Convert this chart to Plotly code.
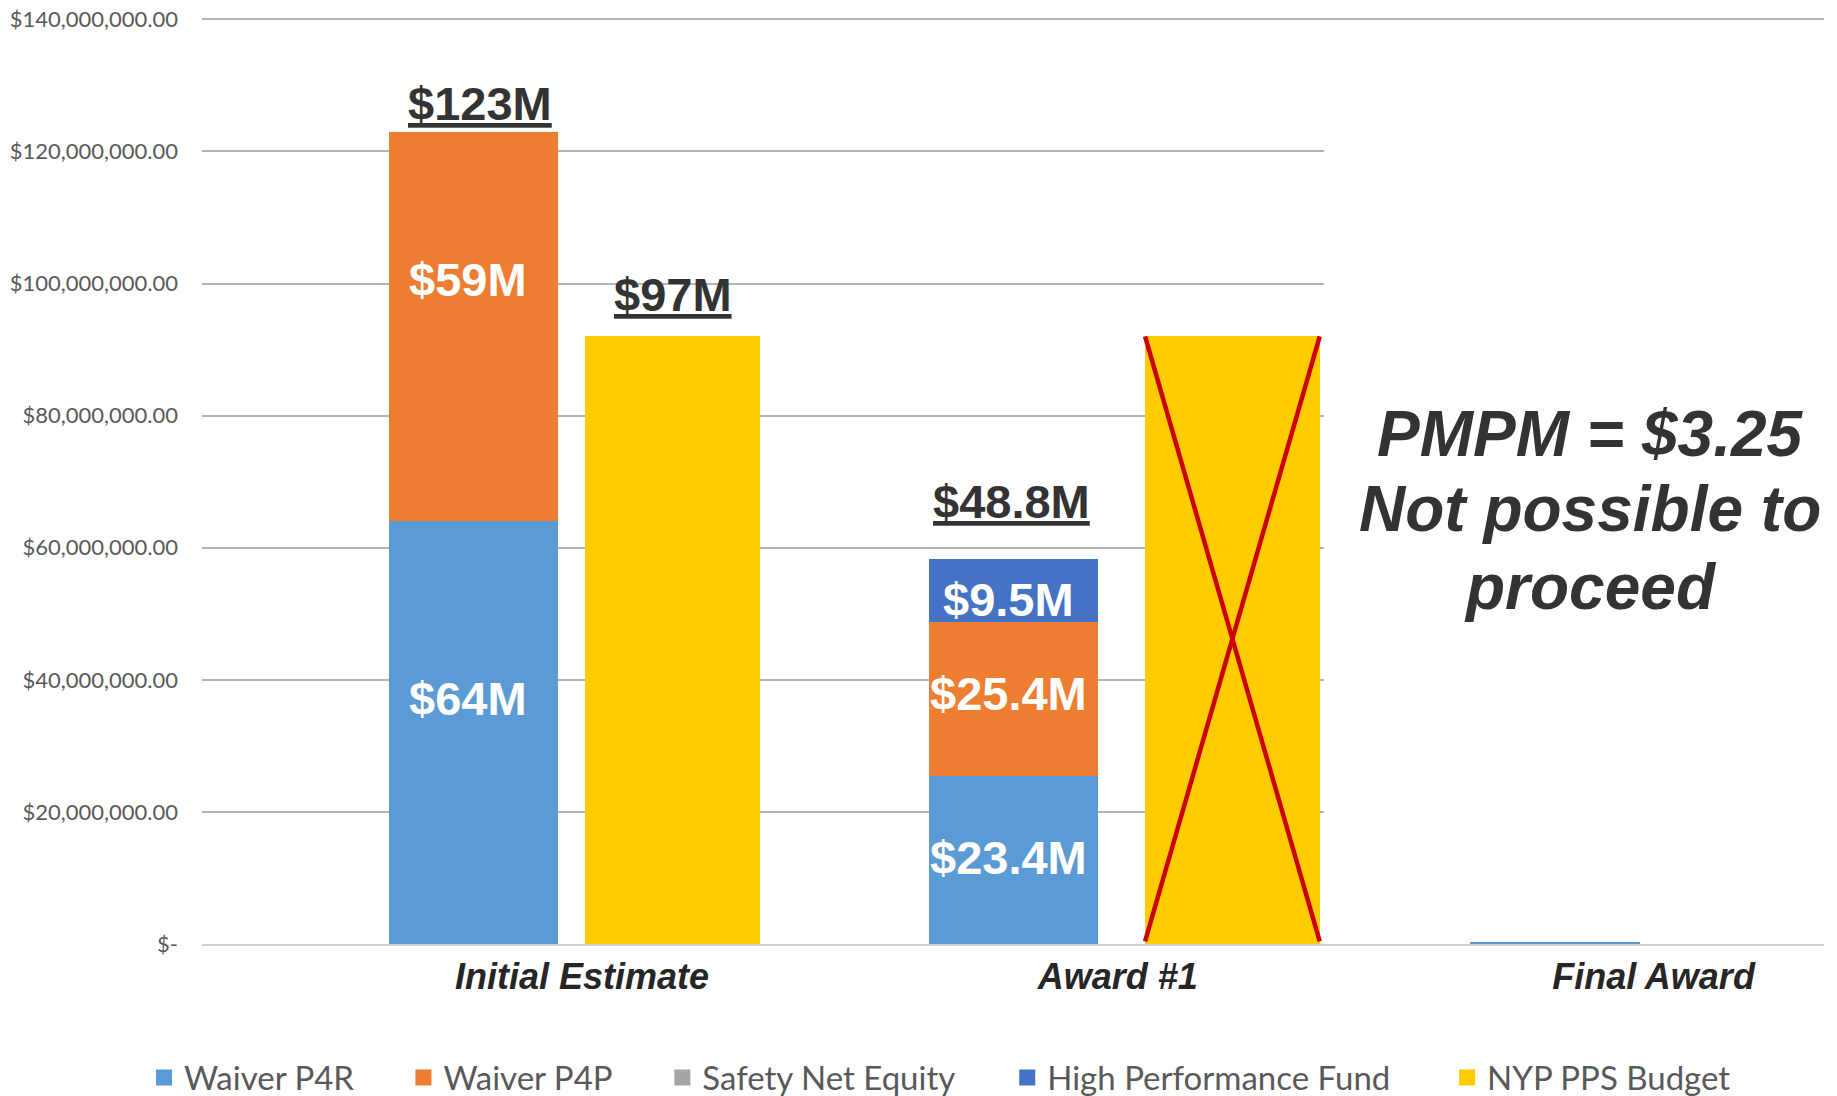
import plotly.graph_objects as go

# ---------------- data ----------------
categories = ["Initial Estimate", "Award #1", "Final Award"]
waiver_p4r = [64.0e6, 25.4e6, 0.3e6]
waiver_p4p = [59.0e6, 23.4e6, 0.0]
safety_net_equity = [0.0, 0.0, 0.0]
high_perf_fund = [0.0, 9.5e6, 0.0]
nyp_pps_budget = [92.0e6, 92.0e6, 0.0]

p4r_labels = ["$64M", "$23.4M", ""]
p4p_labels = ["$59M", "$25.4M", ""]
hpf_labels = ["", "$9.5M", ""]
stack_total_labels = ["$123M", "$48.8M", ""]
budget_total_labels = ["$97M", "", ""]
budget_crossed_out = [False, True, False]

y_tick_values = [0, 20e6, 40e6, 60e6, 80e6, 100e6, 120e6, 140e6]
note_lines = ["PMPM = $3.25", "Not possible to", "proceed"]

series_names = ["Waiver P4R", "Waiver P4P", "Safety Net Equity",
                "High Performance Fund", "NYP PPS Budget"]

# ---------------- styles ----------------
C_P4R = "#5B9BD5"
C_P4P = "#ED7D31"
C_SNE = "#A5A5A5"
C_HPF = "#4472C4"
C_BUD = "#FFCC00"
colors = [C_P4R, C_P4P, C_SNE, C_HPF, C_BUD]

# page body margin is removed by the post script, so figure px == screen px
OFF = 0
W, H = 1837 - OFF, 1096 - OFF
PLOT_L, PLOT_R, PLOT_T, PLOT_B = 201.5 - OFF, 1824 - OFF, 17.6 - OFF, 944.3 - OFF
ML, MR, MT, MB = PLOT_L, W - PLOT_R, PLOT_T, H - PLOT_B
PW = PLOT_R - PLOT_L
PH = PLOT_B - PLOT_T
X_RANGE = [-0.7092, 2.3182]
X_PER_PX = (X_RANGE[1] - X_RANGE[0]) / PW

stack_offset = [-0.361, -0.353, -0.342]
stack_width = 0.316
budget_offset = [0.006, 0.051, 0.05]
budget_width = 0.326

BOLD = "Arial, Liberation Sans, sans-serif"
LIGHT = "Lato, Calibri, sans-serif"


def fmt_tick(v):
    return "$-" if v == 0 else "${:,.2f}".format(v)


def scr_x_to_data(px):
    return X_RANGE[0] + (px - OFF - ML) * X_PER_PX


def scr_x_to_paper(px):
    return (px - OFF - ML) / PW


def scr_y_to_paper(py):
    return (PLOT_B - (py - OFF)) / PH


fig = go.Figure()

stack_series = [waiver_p4r, waiver_p4p, safety_net_equity, high_perf_fund]
for name, vals, col in zip(series_names[:4], stack_series, colors[:4]):
    fig.add_trace(go.Bar(
        name=name, x=categories, y=vals,
        offset=stack_offset, width=stack_width,
        marker=dict(color=col, line=dict(width=0)),
        showlegend=False, hoverinfo="skip",
    ))

fig.add_trace(go.Bar(
    name=series_names[4], x=categories, y=nyp_pps_budget, xaxis="x2",
    offset=budget_offset, width=budget_width,
    marker=dict(color=C_BUD, line=dict(width=0)),
    showlegend=False, hoverinfo="skip",
))

# legend entries (one legend per entry so each can be positioned)
legend_sym_centers = [163.5, 423, 682, 1027, 1467]
legend_layouts = {}
for i, (name, col) in enumerate(zip(series_names, colors)):
    key = "legend" if i == 0 else f"legend{i + 1}"
    fig.add_trace(go.Scatter(
        x=[None], y=[None], mode="markers", name=name,
        marker=dict(symbol="square", size=16, color=col),
        legend=key, showlegend=True,
    ))
    legend_layouts[key] = dict(
        x=scr_x_to_paper(legend_sym_centers[i] - 20), xanchor="left",
        y=scr_y_to_paper(1078), yanchor="middle",
        orientation="h", bgcolor="rgba(0,0,0,0)",
        font=dict(family=LIGHT, size=33, color="#595959"),
        itemclick=False, itemdoubleclick=False,
    )

annotations = []

# segment labels inside stacked bars
seg_shift = {("p4r", 0): 34, ("p4p", 0): 47, ("p4r", 1): 3, ("p4p", 1): 5, ("hpf", 1): -9}
for i in range(len(categories)):
    xc = i + stack_offset[i] + stack_width / 2
    base = 0.0
    for key, vals, labels in (("p4r", waiver_p4r, p4r_labels),
                              ("p4p", waiver_p4p, p4p_labels),
                              ("sne", safety_net_equity, [""] * 3),
                              ("hpf", high_perf_fund, hpf_labels)):
        if labels[i]:
            annotations.append(dict(
                x=xc, y=base + vals[i] / 2, xref="x", yref="y",
                text=f"<b>{labels[i]}</b>", showarrow=False,
                xshift=-5, yshift=seg_shift.get((key, i), 0),
                font=dict(family=BOLD, size=47, color="white"),
            ))
        base += vals[i]

# totals above bars
total_shift_stack = [28, 57, 0]
total_xshift_stack = [7, -2, 0]
for i in range(len(categories)):
    top = waiver_p4r[i] + waiver_p4p[i] + safety_net_equity[i] + high_perf_fund[i]
    if stack_total_labels[i]:
        annotations.append(dict(
            x=i + stack_offset[i] + stack_width / 2, y=top, xref="x", yref="y",
            text=f"<b><u>{stack_total_labels[i]}</u></b>", showarrow=False,
            yanchor="middle", yshift=total_shift_stack[i], xshift=total_xshift_stack[i],
            font=dict(family=BOLD, size=47, color="#333333"),
        ))
    if budget_total_labels[i]:
        annotations.append(dict(
            x=i + budget_offset[i] + budget_width / 2, y=nyp_pps_budget[i],
            xref="x", yref="y",
            text=f"<b><u>{budget_total_labels[i]}</u></b>", showarrow=False,
            yanchor="middle", yshift=42,
            font=dict(family=BOLD, size=47, color="#333333"),
        ))

# note text
note_y_px = [434, 509, 587]
for line, ypx in zip(note_lines, note_y_px):
    annotations.append(dict(
        x=scr_x_to_paper(1590), y=scr_y_to_paper(ypx), xref="paper", yref="paper",
        text=f"<b><i>{line}</i></b>", showarrow=False,
        xanchor="center", yanchor="middle",
        font=dict(family=BOLD, size=64, color="#333333"),
    ))

shapes = [
    # white box behind the note text hides the gridlines there
    dict(type="rect", xref="x", yref="y", x0=scr_x_to_data(1324), x1=X_RANGE[1] + 0.01,
         y0=5e6, y1=135e6, fillcolor="white", line=dict(width=0), layer="between"),
]
for i, crossed in enumerate(budget_crossed_out):
    if crossed:
        x0 = i + budget_offset[i]
        x1 = x0 + budget_width
        for (a, b) in (((x0, 0.4e6), (x1, nyp_pps_budget[i])),
                       ((x0, nyp_pps_budget[i]), (x1, 0.4e6))):
            shapes.append(dict(type="line", xref="x2", yref="y",
                               x0=a[0], y0=a[1], x1=b[0], y1=b[1],
                               line=dict(color="#CC0000", width=4.5), layer="above"))

fig.update_layout(
    width=W, height=H,
    margin=dict(l=ML, r=MR, t=MT, b=MB, autoexpand=False),
    paper_bgcolor="white", plot_bgcolor="white",
    barmode="stack", bargap=0,
    annotations=annotations, shapes=shapes,
    showlegend=True,
    xaxis=dict(
        type="category", categoryorder="array", categoryarray=categories,
        range=X_RANGE, showgrid=False, zeroline=False, automargin=False,
        showline=True, linecolor="#D0D0D0", linewidth=2,
        ticks="", ticklabelstandoff=0,
        tickfont=dict(family=BOLD, size=36, color="#262626", weight="bold", style="italic"),
    ),
    xaxis2=dict(
        type="category", categoryorder="array", categoryarray=categories,
        range=X_RANGE, overlaying="x", visible=False, automargin=False,
    ),
    yaxis=dict(
        range=[0, 140.2e6], tickvals=y_tick_values, automargin=False,
        ticktext=[fmt_tick(v) for v in y_tick_values],
        showgrid=True, gridcolor="#B4B4B4", gridwidth=1.5,
        zeroline=False, showline=False, ticks="", ticklabelstandoff=23,
        ticklabeloverflow="allow",
        tickfont=dict(family=LIGHT, size=22, color="#595959"),
    ),
    **legend_layouts,
)

fig.write_html(
    "out.html",
    config={"displayModeBar": False},
    post_script="document.body.style.margin='0px'; document.body.style.overflow='hidden';",
)
